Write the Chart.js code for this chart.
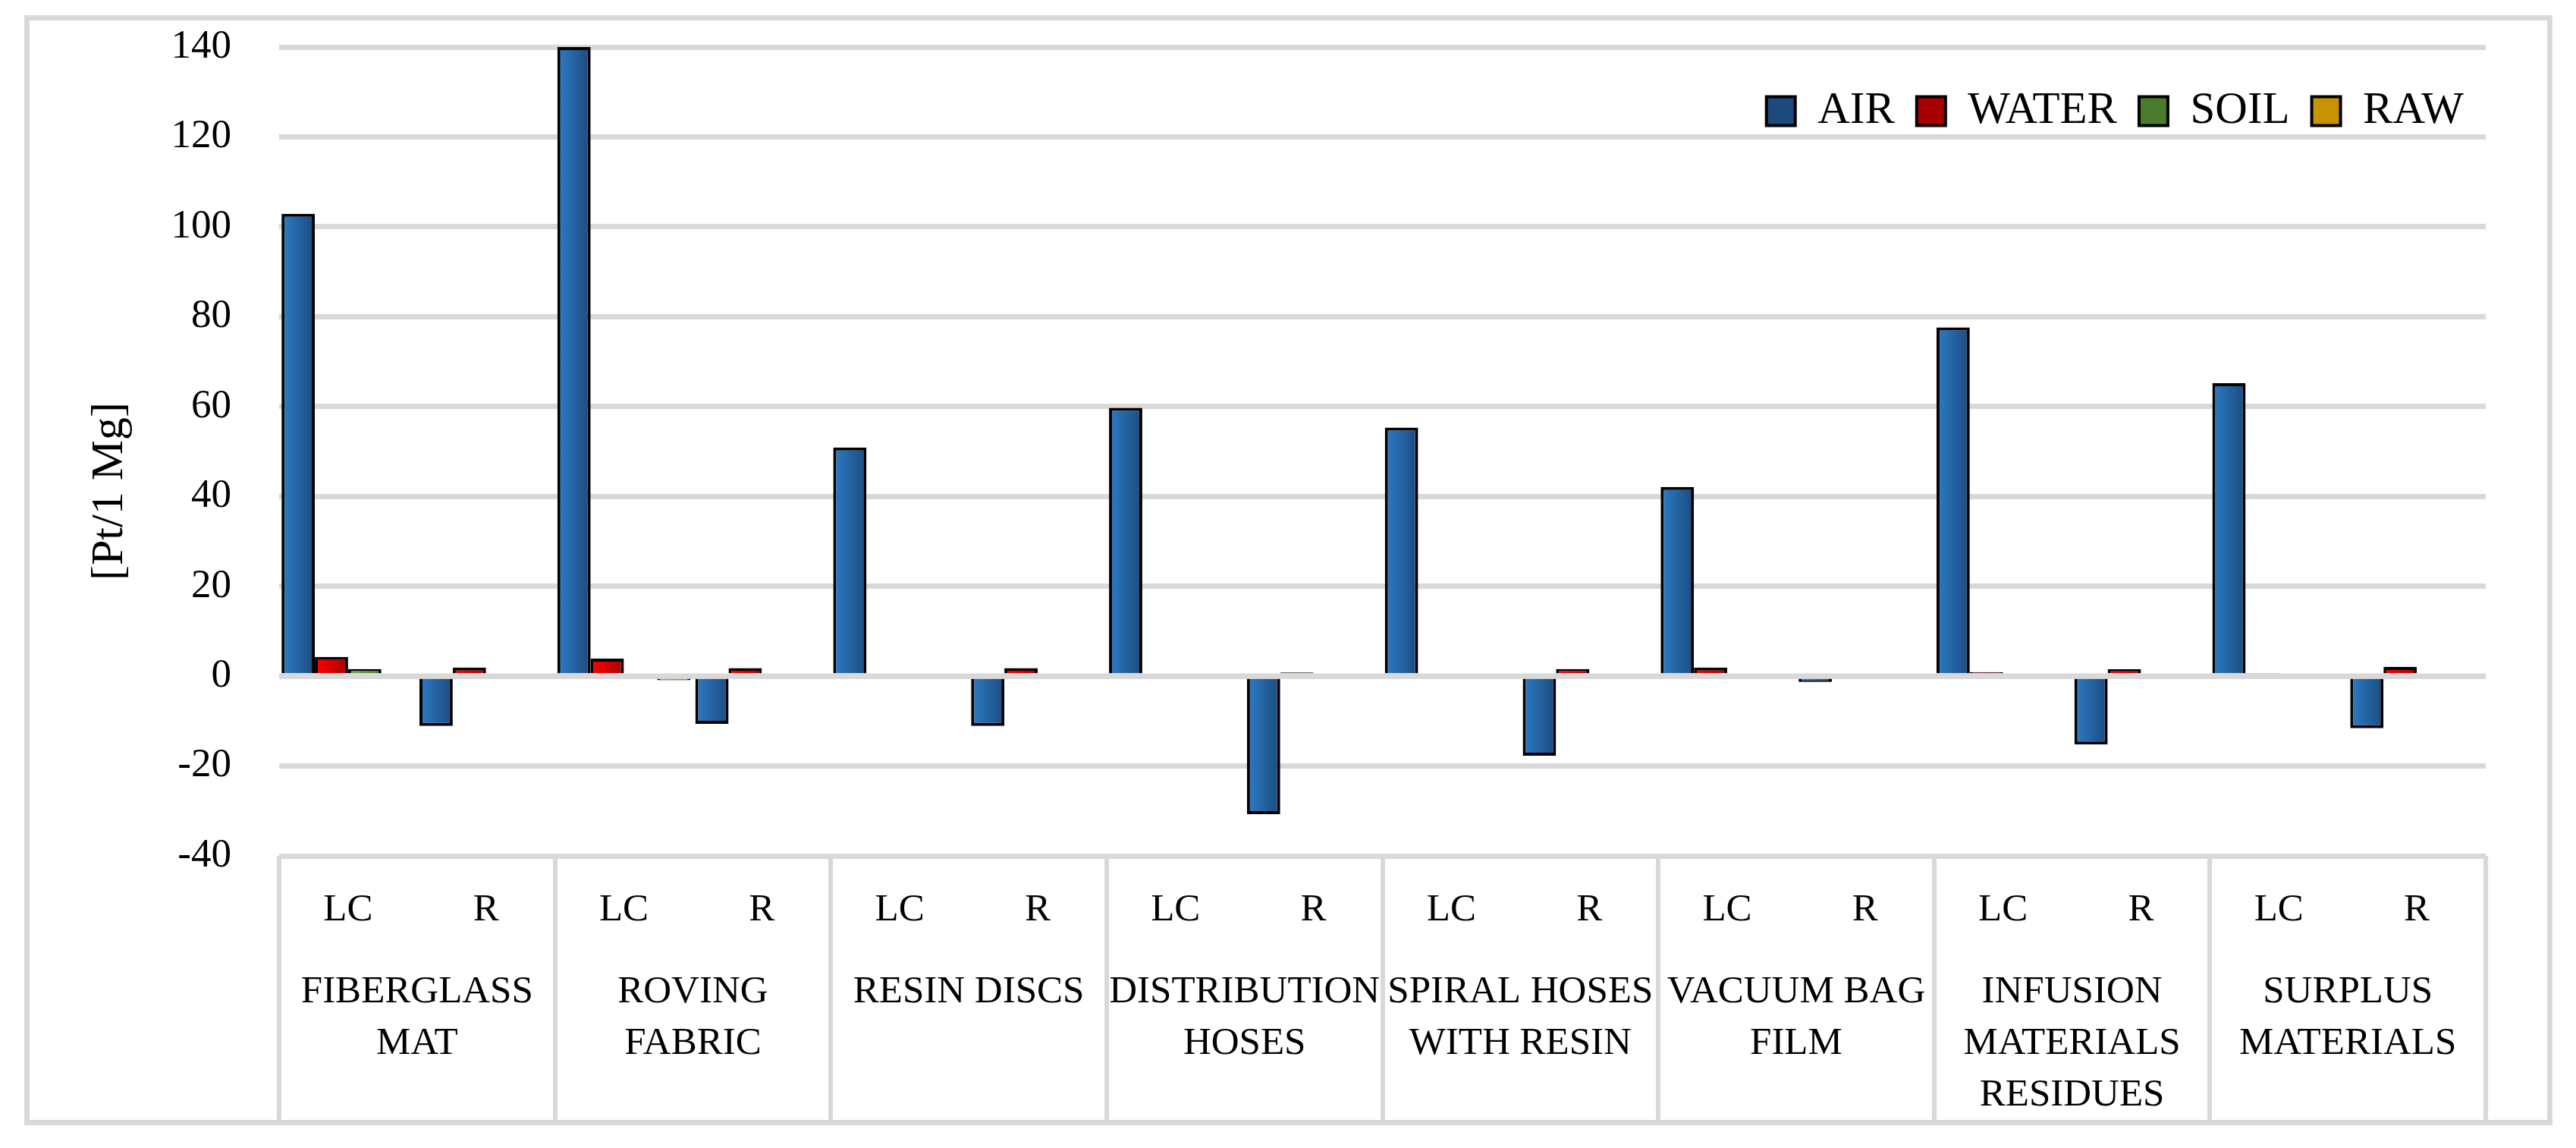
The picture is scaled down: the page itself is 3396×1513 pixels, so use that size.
<!DOCTYPE html>
<html>
<head>
<meta charset="utf-8">
<script src="https://cdn.jsdelivr.net/npm/chart.js@4.4.1/dist/chart.umd.min.js"></script>
<style>
    html, body { margin: 0; padding: 0; background: #ffffff; }
    #wrap { position: relative; width: 3396px; height: 1513px; }
    #frame {
        position: absolute; left: 32px; top: 20px; width: 3333px; height: 1463px;
        box-sizing: border-box; border: 7px solid #d9d9d9; pointer-events: none;
    }
</style>
</head>
<body>
<div id="wrap">
    <canvas id="impactChart" width="3396" height="1513"></canvas>
    <div id="frame"></div>
</div>
<script>
// Sub categories (life cycle / recycling) and the material groups under them
const categories = ["LC", "R", "LC", "R", "LC", "R", "LC", "R",
                    "LC", "R", "LC", "R", "LC", "R", "LC", "R"];
const groupNames = [
    ["FIBERGLASS", "MAT"],
    ["ROVING", "FABRIC"],
    ["RESIN DISCS"],
    ["DISTRIBUTION", "HOSES"],
    ["SPIRAL HOSES", "WITH RESIN"],
    ["VACUUM BAG", "FILM"],
    ["INFUSION", "MATERIALS", "RESIDUES"],
    ["SURPLUS", "MATERIALS"]
];

// Values in Pt per 1 Mg
const airValues   = [102.9, -11.1, 140, -10.6, 50.9, -11.1, 59.7, -30.7,
                     55.3, -17.7, 42.1, -1.3, 77.6, -15.2, 65.2, -11.6];
const waterValues = [4.3, 1.9, 3.9, 1.8, 0, 1.8, 0, 0.8,
                     0, 1.6, 1.9, 0, 0.9, 1.55, 0.7, 2.05];
const soilValues  = [1.6, 0, 0, 0, 0, 0, 0, 0,
                     0, 0, 0, 0, 0, 0, 0, 0];
const rawValues   = [0, 0, -0.9, 0, 0, 0, 0, 0,
                     0, 0, 0, 0, 0, 0, 0, 0];

const yTicks = [-40, -20, 0, 20, 40, 60, 80, 100, 120, 140];

const FONT = "'Liberation Serif', 'Times New Roman', serif";
const GRID = "#d9d9d9";
const CAT_PCT = 0.965;

// left colour, right colour, legend colour
const airColors   = ["#2c7cc8", "#1c4a7c", "#2468a8"];
const waterColors = ["#ff0000", "#a80000", "#e60000"];
const soilColors  = ["#72b043", "#4a7a2b", "#66a03c"];
const rawColors   = ["#ffc400", "#c89200", "#f0b400"];

// horizontal gradient across each bar, like the Excel fill
function barFill(colors) {
    return function (c) {
        const chart = c.chart;
        const xs = chart.scales.x;
        if (c.type !== "data" || !xs || !chart.chartArea) return colors[2];
        const cw = xs.width / categories.length;
        const chunk = cw * CAT_PCT / 4;
        const left = xs.getPixelForValue(c.dataIndex) - cw * CAT_PCT / 2 + chunk * c.datasetIndex;
        const g = chart.ctx.createLinearGradient(left, 0, left + chunk, 0);
        g.addColorStop(0, colors[0]);
        g.addColorStop(1, colors[1]);
        return g;
    };
}

// the zero line sits on top of the bars in the original
const zeroLinePlugin = {
    id: "zeroLine",
    afterDatasetsDraw(chart) {
        const { ctx, chartArea, scales } = chart;
        const y0 = scales.y.getPixelForValue(0);
        ctx.save();
        ctx.strokeStyle = GRID;
        ctx.lineWidth = 7;
        ctx.beginPath();
        ctx.moveTo(chartArea.left, y0);
        ctx.lineTo(chartArea.right, y0);
        ctx.stroke();
        ctx.restore();
    }
};

// legend lies inside the plot area: take no room in the layout,
// then give the box its real height back so it is not clipped
const insideLegendPlugin = {
    id: "insideLegend",
    afterInit(chart) {
        const legend = chart.legend;
        const fit = legend.fit;
        legend.fit = function () {
            fit.call(this);
            this._realHeight = this.height;
            this.height = 0;
        };
    },
    afterLayout(chart) {
        const legend = chart.legend;
        legend.height = legend._realHeight;
        legend.bottom = legend.top + legend._realHeight;
    }
};

function makeDataset(label, data, colors) {
    return {
        label: label,
        data: data,
        xAxisID: "x",
        backgroundColor: barFill(colors),
        borderColor: "#000000",
        borderWidth: 4,
        categoryPercentage: CAT_PCT,
        barPercentage: 1.0
    };
}

const ctx = document.getElementById("impactChart").getContext("2d");
new Chart(ctx, {
    type: "bar",
    data: {
        labels: categories,
        datasets: [
            makeDataset("AIR", airValues, airColors),
            makeDataset("WATER", waterValues, waterColors),
            makeDataset("SOIL", soilValues, soilColors),
            makeDataset("RAW", rawValues, rawColors)
        ]
    },
    options: {
        responsive: false,
        animation: false,
        devicePixelRatio: 1,
        layout: {
            padding: { left: 0, top: 62, right: 119, bottom: 33 }
        },
        scales: {
            x: {
                position: "bottom",
                weight: 0,
                offset: true,
                border: { display: false },
                grid: {
                    offset: true,
                    drawOnChartArea: false,
                    drawTicks: true,
                    tickLength: 120,
                    lineWidth: 6,
                    // only the group boundaries get a line
                    color: c => (c.type !== "tick" || c.index % 2 === 0) ? GRID : "rgba(0,0,0,0)"
                },
                ticks: {
                    autoSkip: false,
                    maxRotation: 0,
                    minRotation: 0,
                    padding: -82,
                    color: "#000000",
                    font: { family: FONT, size: 51, lineHeight: 1.333 }
                },
                afterFit: scale => { scale.height = 120; }
            },
            x2: {
                type: "category",
                labels: groupNames,
                position: "bottom",
                weight: 1,
                offset: true,
                border: { display: false },
                grid: {
                    offset: true,
                    drawOnChartArea: false,
                    drawTicks: true,
                    tickLength: 232,
                    lineWidth: 6,
                    color: GRID
                },
                ticks: {
                    autoSkip: false,
                    maxRotation: 0,
                    minRotation: 0,
                    padding: -206,
                    color: "#000000",
                    font: { family: FONT, size: 51, lineHeight: 1.333 }
                },
                afterFit: scale => { scale.height = 232; }
            },
            y: {
                min: yTicks[0],
                max: yTicks[yTicks.length - 1],
                border: { display: false },
                grid: {
                    color: GRID,
                    lineWidth: 7,
                    drawTicks: true,
                    tickLength: 63,
                    tickColor: "rgba(0,0,0,0)"
                },
                ticks: {
                    stepSize: 20,
                    padding: 0,
                    color: "#000000",
                    font: { family: FONT, size: 53 }
                },
                title: {
                    display: true,
                    text: "[Pt/1 Mg]       ",
                    color: "#000000",
                    font: { family: FONT, size: 60, lineHeight: 1.2 },
                    padding: { top: 109, bottom: 0 }
                },
                afterFit: scale => { scale.width = 368; }
            }
        },
        plugins: {
            legend: {
                position: "top",
                align: "end",
                title: {
                    display: true,
                    text: " ",
                    font: { size: 10, lineHeight: 1.2 },
                    padding: { top: 7, bottom: 7 }
                },
                labels: {
                    boxWidth: 38,
                    boxHeight: 38,
                    padding: 29,
                    color: "#000000",
                    font: { family: FONT, size: 59 }
                }
            },
            tooltip: { enabled: false }
        }
    },
    plugins: [zeroLinePlugin, insideLegendPlugin]
});
</script>
</body>
</html>
